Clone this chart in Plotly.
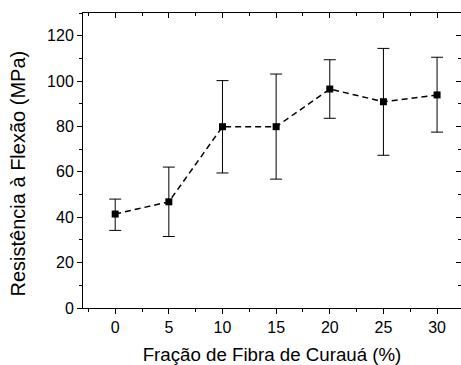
import plotly.graph_objects as go

fraction = [0, 5, 10, 15, 20, 25, 30]
strength = [41.4, 46.8, 79.9, 79.9, 96.5, 90.9, 93.9]
err_plus = [6.6, 15.3, 20.3, 23.2, 12.9, 23.5, 16.6]
err_minus = [7.2, 15.3, 20.4, 23.1, 12.9, 23.6, 16.4]

x_title = "Fração de Fibra de Curauá (%)"
y_title = "Resistência à Flexão (MPa)"

FONT = "Liberation Sans, Arial, sans-serif"
XR = [-3, 32.23]
YR = [0, 130]

fig = go.Figure()
fig.add_trace(go.Scatter(
    x=fraction, y=strength, mode="lines+markers",
    line=dict(color="black", width=1.5, dash="6px,4px"),
    marker=dict(symbol="square", size=7, color="black", line=dict(width=0)),
    error_y=dict(type="data", symmetric=False, array=err_plus, arrayminus=err_minus,
                 color="black", thickness=1, width=6),
    showlegend=False,
))
# helper trace for mirrored top/right axes
fig.add_trace(go.Scatter(x=fraction, y=strength, xaxis="x2", yaxis="y2",
                         mode="markers", marker=dict(opacity=0), hoverinfo="skip",
                         showlegend=False))

axis_common = dict(showgrid=False, zeroline=False, linecolor="black", linewidth=1,
                   tickcolor="black", tickwidth=1)

fig.update_layout(
    width=461, height=365,
    margin=dict(l=83, r=0, t=13, b=57),
    paper_bgcolor="white", plot_bgcolor="white",
    font=dict(family=FONT, color="black"),
    xaxis=dict(range=XR, tickmode="linear", tick0=0, dtick=5, ticks="outside", ticklen=5,
               showline=True, tickfont=dict(size=16),
               minor=dict(ticks="outside", ticklen=3, dtick=2.5, tick0=0, tickcolor="black"),
               title=dict(text=x_title, font=dict(size=18.7), standoff=12),
               **axis_common),
    yaxis=dict(range=YR, tickmode="linear", tick0=0, dtick=20, ticks="outside", ticklen=5,
               showline=True, tickfont=dict(size=16),
               minor=dict(ticks="outside", ticklen=3, dtick=10, tick0=0, tickcolor="black"),
               **axis_common),
    xaxis2=dict(range=XR, overlaying="x", anchor="y", side="top", tickmode="linear", tick0=0,
                dtick=5, ticks="inside", ticklen=5, showline=True, showticklabels=False,
                minor=dict(ticks="inside", ticklen=3, dtick=2.5, tick0=0, tickcolor="black"),
                **axis_common),
    yaxis2=dict(range=YR, overlaying="y", anchor="x", side="right", tickmode="linear", tick0=0,
                dtick=20, ticks="inside", ticklen=5, showline=False, showticklabels=False,
                minor=dict(ticks="inside", ticklen=3, dtick=10, tick0=0, tickcolor="black"),
                showgrid=False, zeroline=False, tickcolor="black", tickwidth=1),
    annotations=[dict(text=y_title, textangle=-90, xref="paper", yref="paper",
                      x=-0.172, y=0.456, xanchor="center", yanchor="middle",
                      showarrow=False, font=dict(size=20, family=FONT, color="black"))],
)

fig.write_html("out.html", config={"displayModeBar": False},
               post_script="document.body.style.margin='0';document.body.style.overflow='hidden';")
